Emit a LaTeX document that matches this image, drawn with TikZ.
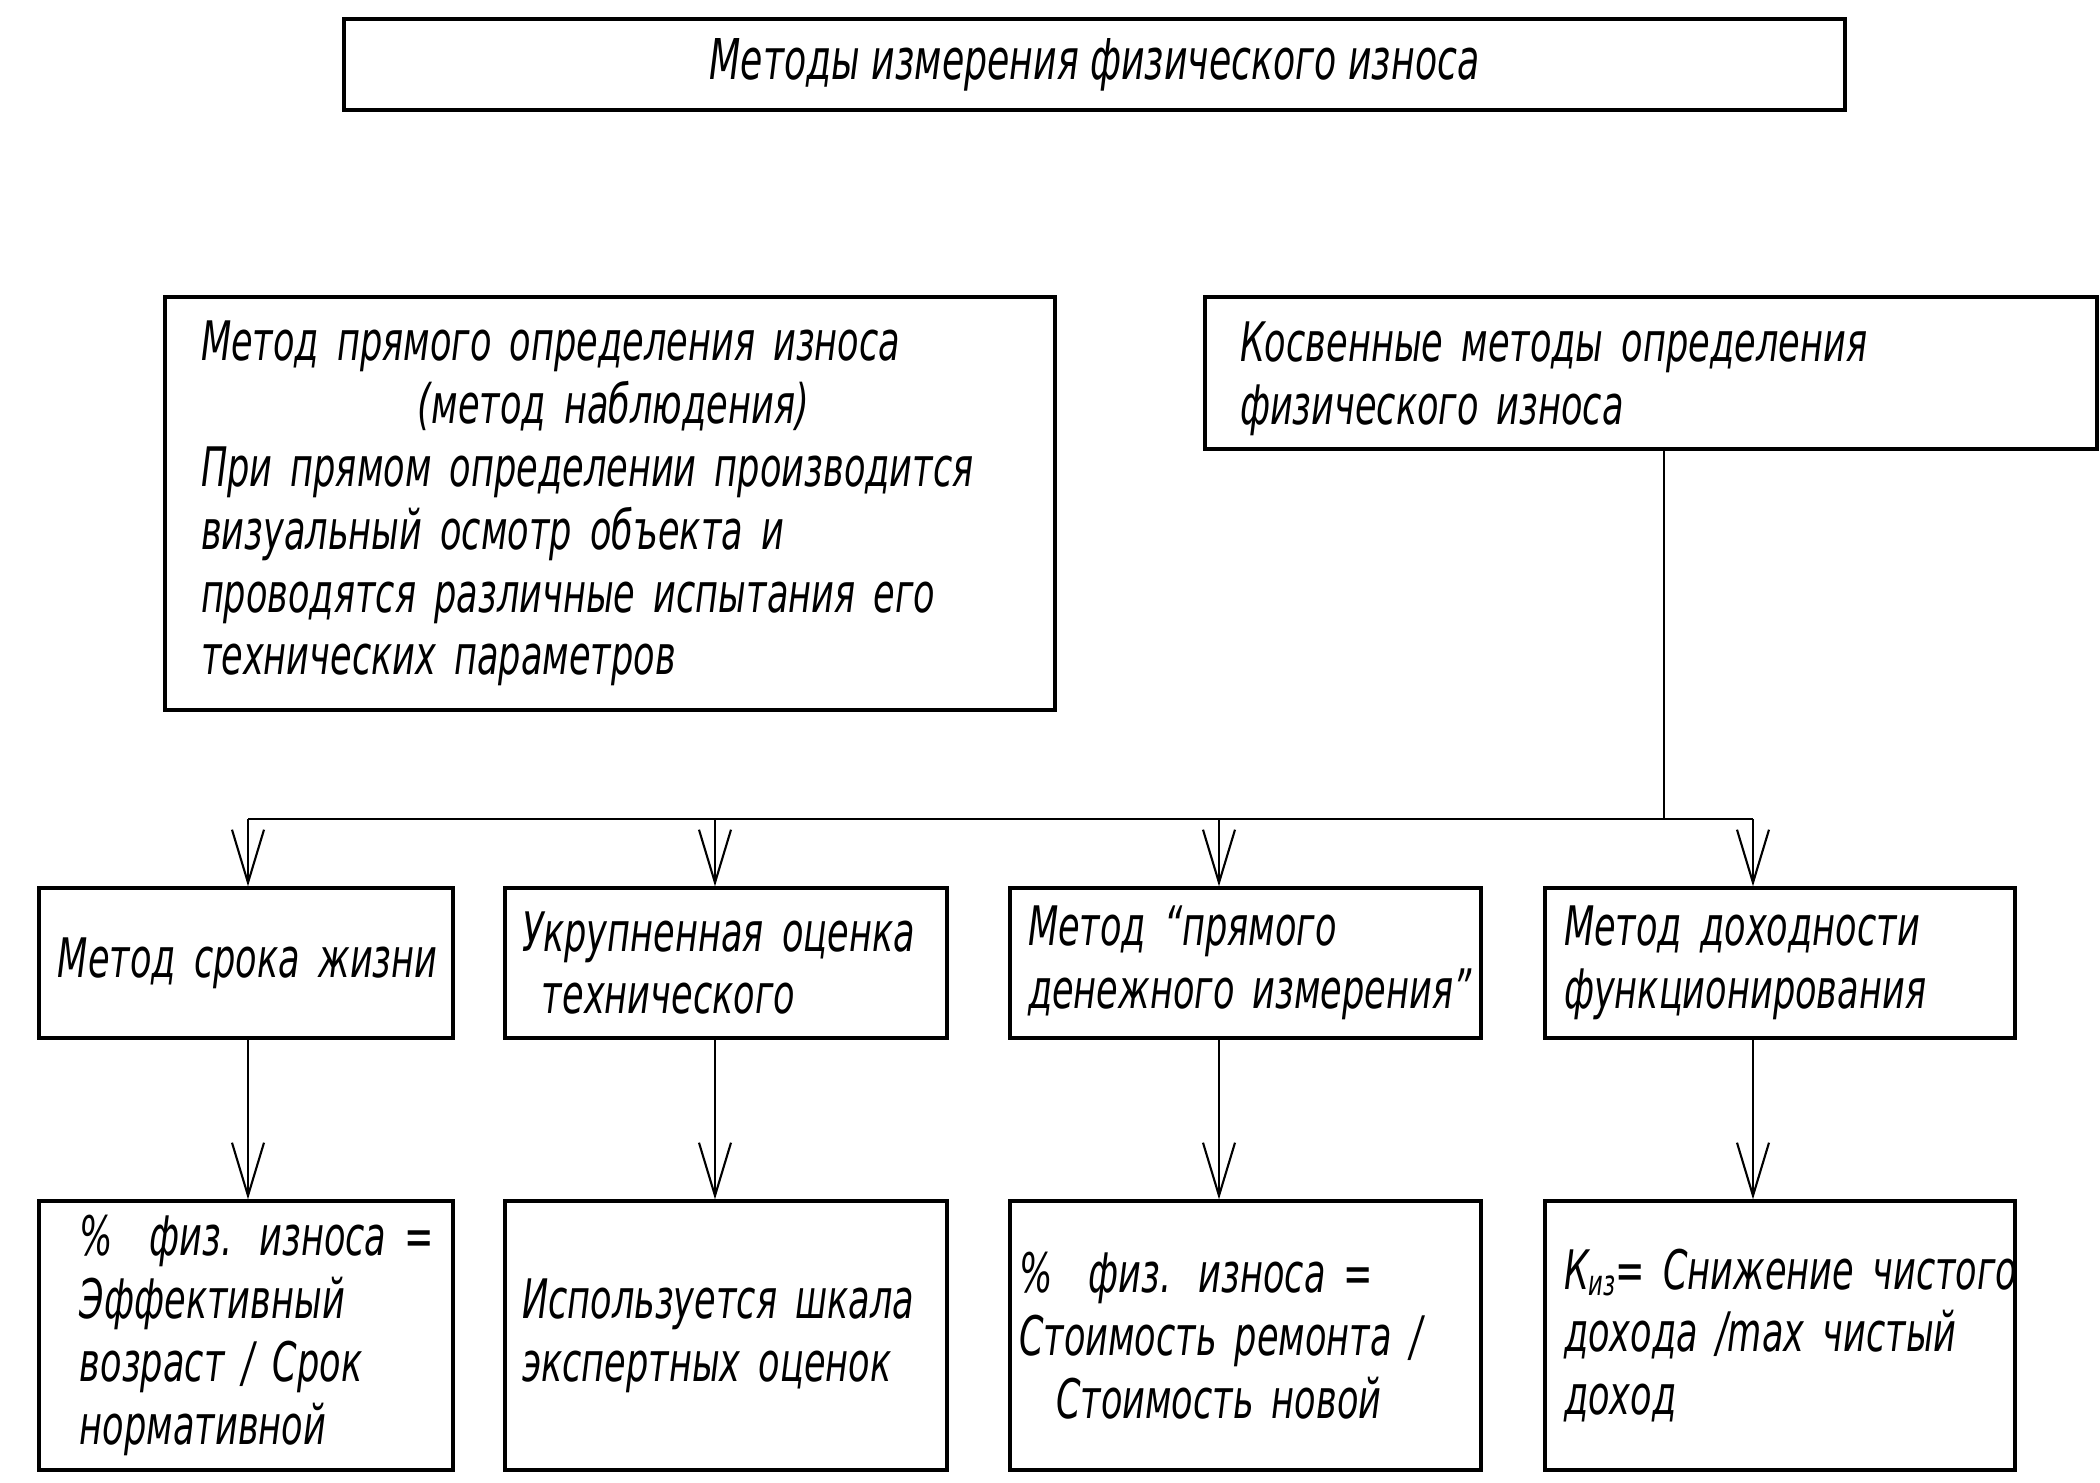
\documentclass[tikz,border=0pt]{standalone}
\usepackage{fontspec}
\setmainfont{DejaVu Sans Oblique}[FakeStretch=0.645]
\usetikzlibrary{arrows.meta}

\begin{document}
\begin{tikzpicture}[
        blok/.style={draw, line width=0.95pt, align=left, inner ysep=0pt,
            font=\fontsize{15.5}{17.9}\selectfont},
        strelka/.style={line width=0.6pt, -{Straight Barb[length=5.3mm, width=3.2mm]}},
        liniya/.style={line width=0.6pt}
    ]
            \useasboundingbox (0,0) rectangle (21,-14.83);
            %
            \node[blok, align=center, minimum width=15.01cm, minimum height=0.91cm, font=\fontsize{16}{18}\selectfont] (title) at (10.945,-0.645) {Методы измерения физического износа};
            %
            \node[blok, minimum height=4.13cm, inner xsep=0.36cm, text width=8.18cm] (pryamoj) at (6.10,-5.035) {\mbox{Метод прямого определения износа}\\ \hspace*{2.17cm}(метод наблюдения)\\ \mbox{При прямом определении производится}\\ визуальный осмотр объекта и\\ \mbox{проводятся различные испытания его}\\ технических параметров};
            \node[blok, minimum height=1.52cm, inner xsep=0.35cm, text width=8.22cm] (kosv) at (16.51,-3.73) {\\[-0.12cm]Косвенные методы определения\\ физического износа};
            %
            \node[blok, minimum height=1.50cm, inner xsep=0.19cm, text width=3.76cm] (m1) at (2.46,-9.63) {\mbox{Метод срока жизни}};
            \node[blok, minimum height=1.50cm, inner xsep=0.17cm, text width=4.08cm] (m2) at (7.26,-9.63) {\mbox{Укрупненная оценка}\\ \hspace*{0.2cm}технического};
            \node[blok, minimum height=1.50cm, inner xsep=0.18cm, text width=4.35cm] (m3) at (12.455,-9.63) {Метод “прямого\\ \mbox{денежного измерения”}};
            \node[blok, minimum height=1.50cm, inner xsep=0.19cm, text width=4.32cm] (m4) at (17.80,-9.63) {Метод доходности\\ функционирования};
            %
            \node[blok, minimum height=2.69cm, inner xsep=0.41cm, text width=3.32cm] (r1) at (2.46,-13.355) {\mbox{\%\ \ физ. износа =}\\ Эффективный\\ \mbox{возраст / Срок}\\ нормативной};
            \node[blok, minimum height=2.69cm, inner xsep=0.17cm, text width=4.08cm] (r2) at (7.26,-13.355) {\mbox{Используется шкала}\\ экспертных оценок};
            \node[blok, minimum height=2.69cm, inner xsep=0.09cm, text width=4.53cm] (r3) at (12.455,-13.355) {\mbox{\%\ \ физ. износа =}\\ \mbox{Стоимость ремонта /}\\ \hspace*{0.37cm}Стоимость новой\\[0.15cm]};
            \node[blok, minimum height=2.69cm, inner xsep=0.19cm, text width=4.32cm] (r4) at (17.80,-13.355) {\mbox{К{\fontsize{10}{10}\selectfont\raisebox{-0.35ex}{из}}= Снижение чистого}\\ дохода /max чистый\\ доход};
            %
            \coordinate (hub) at (16.64,-8.19);
            \coordinate (c1) at (2.48,-8.19);
            \coordinate (c2) at (7.15,-8.19);
            \coordinate (c3) at (12.19,-8.19);
            \coordinate (c4) at (17.53,-8.19);
            \draw[liniya] (hub |- kosv.south) -- (hub);
            \draw[liniya] (c1) -- (c4);
            %
            \draw[strelka] (c1) -- (c1 |- m1.north);
            \draw[strelka] (c2) -- (c2 |- m2.north);
            \draw[strelka] (c3) -- (c3 |- m3.north);
            \draw[strelka] (c4) -- (c4 |- m4.north);
            %
            \draw[strelka] (c1 |- m1.south) -- (c1 |- r1.north);
            \draw[strelka] (c2 |- m2.south) -- (c2 |- r2.north);
            \draw[strelka] (c3 |- m3.south) -- (c3 |- r3.north);
            \draw[strelka] (c4 |- m4.south) -- (c4 |- r4.north);
        \end{tikzpicture}
\end{document}
